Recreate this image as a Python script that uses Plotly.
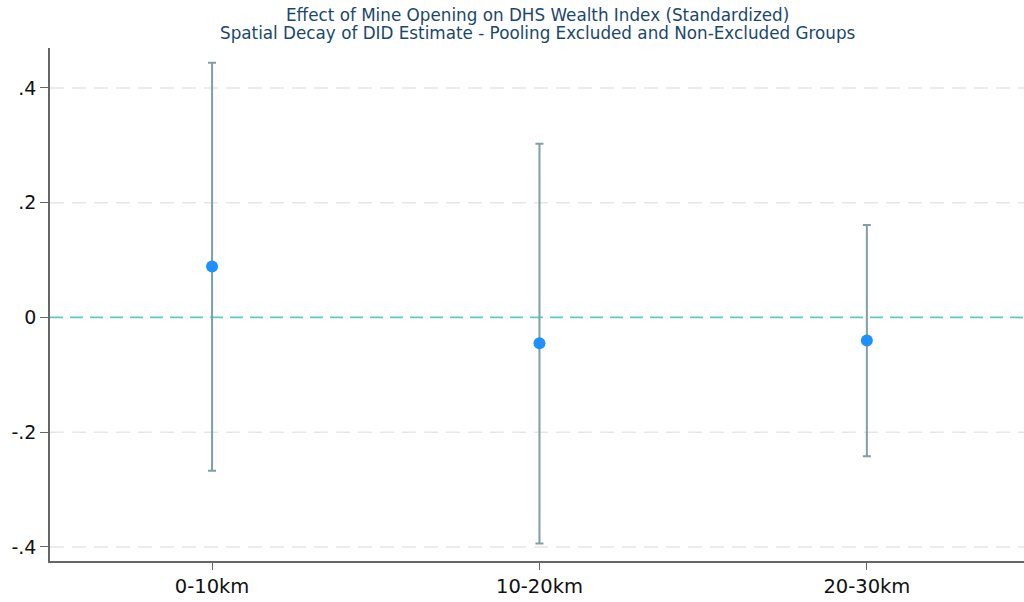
import plotly.graph_objects as go

# Distance bands and DID estimates with 95% confidence bounds
bands = ["0-10km", "10-20km", "20-30km"]
estimate = [0.089, -0.045, -0.040]
ci_low = [-0.267, -0.394, -0.242]
ci_high = [0.444, 0.303, 0.161]

y_ticks = [-0.4, -0.2, 0, 0.2, 0.4]
y_tick_text = ["-.4", "-.2", "0", ".2", ".4"]

title_lines = [
    "Effect of Mine Opening on DHS Wealth Index (Standardized)",
    "Spatial Decay of DID Estimate - Pooling Excluded and Non-Excluded Groups",
]

xpos = list(range(1, len(bands) + 1))
err_plus = [h - e for h, e in zip(ci_high, estimate)]
err_minus = [e - l for e, l in zip(estimate, ci_low)]

fig = go.Figure()

# Light dashed grid at the non-zero ticks
for t in y_ticks:
    if t != 0:
        fig.add_shape(type="line", xref="paper", x0=0, x1=1, yref="y", y0=t, y1=t,
                      line=dict(color="#e6e6e6", width=1.5, dash="14px,8px"), layer="below")

# Horizontal reference line at zero
fig.add_shape(type="line", xref="paper", x0=0, x1=1, yref="y", y0=0, y1=0,
              line=dict(color="#5ccbc4", width=1.8, dash="13px,7px"), layer="below")

fig.add_trace(go.Scatter(
    x=xpos, y=estimate, mode="markers",
    marker=dict(color="#1e90ff", size=12),
    error_y=dict(type="data", symmetric=False, array=err_plus, arrayminus=err_minus,
                 color="#7f9ea7", thickness=2, width=4),
    showlegend=False,
))

# Two-line title
for i, line in enumerate(title_lines):
    fig.add_annotation(text=line, xref="paper", x=0.5, xanchor="center",
                       yref="paper", y=1, yshift=48 - 15 - 18 * i, yanchor="middle",
                       showarrow=False, font=dict(size=16.8, color="#1a476f"))

fig.update_layout(
    width=1024, height=602,
    margin=dict(l=50, r=0, t=48, b=41),
    paper_bgcolor="white", plot_bgcolor="white",
    font=dict(family="DejaVu Sans, Liberation Sans, sans-serif", color="#111111"),
    xaxis=dict(
        range=[0.505, 3.48], tickmode="array", tickvals=xpos, ticktext=bands,
        showgrid=False, zeroline=False, showline=True, linecolor="#666666", linewidth=1.5,
        ticks="outside", ticklen=7, tickcolor="#666666", tickfont=dict(size=19.5, color="#111111"),
    ),
    yaxis=dict(
        range=[-0.4245, 0.4697], tickmode="array", tickvals=y_ticks, ticktext=y_tick_text,
        showgrid=False, zeroline=False,
        showline=True, linecolor="#666666", linewidth=1.5,
        ticks="outside", ticklen=8, tickcolor="#666666", tickfont=dict(size=19, color="#111111"),
    ),
)

fig.write_html("out.html")
